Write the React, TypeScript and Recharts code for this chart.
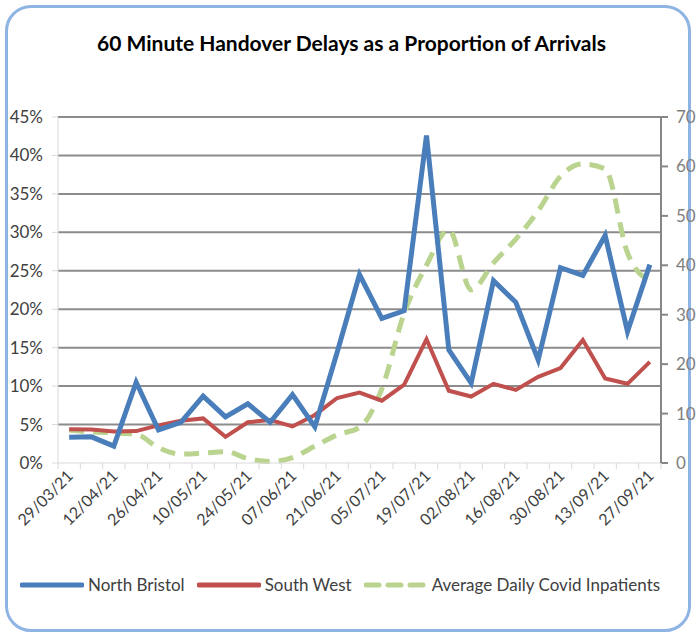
import React from 'react';
import { LineChart, Line, XAxis, YAxis, CartesianGrid } from 'recharts';

// week commencing dates (weekly, 27 points)
const weeks = [
  '29/03/21', '05/04/21', '12/04/21', '19/04/21', '26/04/21', '03/05/21', '10/05/21',
  '17/05/21', '24/05/21', '31/05/21', '07/06/21', '14/06/21', '21/06/21', '28/06/21',
  '05/07/21', '12/07/21', '19/07/21', '26/07/21', '02/08/21', '09/08/21', '16/08/21',
  '23/08/21', '30/08/21', '06/09/21', '13/09/21', '20/09/21', '27/09/21',
];

// % of arrivals with a 60 minute handover delay
const northBristol = [
  3.35, 3.4, 2.2, 10.5, 4.3, 5.3, 8.7, 6.0, 7.7, 5.3, 8.9, 4.7, 14.4, 24.5,
  18.8, 19.8, 42.6, 14.7, 10.4, 23.7, 20.9, 13.4, 25.4, 24.4, 29.6, 17.1, 25.8,
];
const southWest = [
  4.4, 4.35, 4.1, 4.15, 4.9, 5.5, 5.8, 3.4, 5.3, 5.6, 4.75, 6.25, 8.45, 9.15,
  8.1, 10.2, 16.1, 9.4, 8.65, 10.3, 9.5, 11.2, 12.35, 16.0, 11.0, 10.3, 13.15,
];
// average daily covid inpatients (right axis)
const covidInpatients = [
  6.7, 6.3, 6.1, 5.8, 3.1, 1.8, 2.0, 2.3, 0.9, 0.3, 1.1, 3.4, 5.7, 7.2,
  15.0, 30.3, 40.0, 47.2, 35.0, 40.5, 45.3, 51.0, 58.0, 60.5, 59.5, 42.5, 36.7,
];

const pctTicks = [0, 5, 10, 15, 20, 25, 30, 35, 40, 45];
const covidTicks = [0, 10, 20, 30, 40, 50, 60, 70];

const FONT = 'Lato, "Open Sans", sans-serif';

const data = weeks.map((w, i) => ({
  idx: i,
  week: w,
  nb: northBristol[i],
  sw: southWest[i],
  covid: covidInpatients[i],
}));

// tick marks sit between weeks, labels on every other week
const xTicks: number[] = [];
for (let i = 0; i <= weeks.length; i++) xTicks.push(i - 0.5);
for (let i = 0; i < weeks.length; i += 2) xTicks.push(i);
xTicks.sort((a, b) => a - b);

const XTick = (props: any) => {
  const { x, y, payload } = props;
  const v = payload.value;
  if (Math.abs(v % 1) > 0.25) {
    return <line x1={x} x2={x} y1={y} y2={y + 6} stroke="#d9d9d9" strokeWidth={1} />;
  }
  const ax = x + 5;
  const ay = y + 14;
  return (
    <text
      x={ax}
      y={ay}
      transform={`rotate(-45 ${ax} ${ay})`}
      textAnchor="end"
      fontSize={16}
      fontFamily={FONT}
      fill="#404040"
    >
      {weeks[v]}
    </text>
  );
};

const LegendSwatch = ({ color, dashed }: { color: string; dashed?: boolean }) => (
  <svg width={64} height={10} style={{ display: 'block' }}>
    <line
      x1={2}
      x2={62}
      y1={5}
      y2={5}
      stroke={color}
      strokeWidth={5}
      strokeDasharray={dashed ? '13 9' : undefined}
      strokeLinecap="round"
    />
  </svg>
);

export default function App() {
  return (
    <div style={{ position: 'absolute', left: 0, top: 0, width: 697, height: 635, background: '#fff', overflow: 'hidden' }}>
      <div
        style={{
          position: 'absolute', left: 5, top: 5, width: 686, height: 627, boxSizing: 'border-box',
          border: '3px solid #8eb4e3', borderRadius: 26,
        }}
      />
      <div
        style={{
          position: 'absolute', left: 0, top: 30, width: 703, textAlign: 'center',
          fontFamily: FONT, fontWeight: 700, fontSize: 21, color: '#000',
        }}
      >
        60 Minute Handover Delays as a Proportion of Arrivals
      </div>
      <div style={{ position: 'absolute', left: 0, top: 0 }}>
        <LineChart width={697} height={635} data={data} margin={{ top: 117, right: 0, left: 0, bottom: 0 }}>
          <CartesianGrid
            yAxisId="pct"
            vertical={false}
            horizontalValues={[5, 10, 15, 20, 25, 30, 35, 40, 45]}
            stroke="#8c8c8c"
            strokeWidth={2}
          />
          <XAxis
            dataKey="idx"
            type="number"
            domain={[-0.5, weeks.length - 0.5]}
            ticks={xTicks}
            interval={0}
            tick={<XTick />}
            tickLine={false}
            tickSize={0}
            tickMargin={0}
            axisLine={{ stroke: '#d9d9d9', strokeWidth: 1 }}
            height={172}
          />
          <YAxis
            yAxisId="pct"
            domain={[0, 45]}
            ticks={pctTicks}
            interval={0}
            width={58}
            tickFormatter={(v) => `${v}%`}
            tick={{ fill: '#404040', fontSize: 17, fontFamily: FONT }}
            tickLine={{ stroke: '#d9d9d9' }}
            tickSize={6}
            tickMargin={9}
            axisLine={{ stroke: '#d9d9d9', strokeWidth: 1 }}
          />
          <YAxis
            yAxisId="covid"
            orientation="right"
            domain={[0, 70]}
            ticks={covidTicks}
            interval={0}
            width={36}
            tick={{ fill: '#7f7f7f', fontSize: 17, fontFamily: FONT }}
            tickLine={{ stroke: '#868686', strokeWidth: 2 }}
            tickSize={7}
            tickMargin={8}
            axisLine={{ stroke: '#868686', strokeWidth: 2 }}
          />
          <Line
            yAxisId="covid"
            dataKey="covid"
            type="monotone"
            stroke="#bad48f"
            strokeWidth={5}
            strokeDasharray="15 9"
            dot={false}
            isAnimationActive={false}
          />
          <Line
            yAxisId="pct"
            dataKey="sw"
            type="linear"
            stroke="#c0504d"
            strokeWidth={4}
            dot={false}
            isAnimationActive={false}
          />
          <Line
            yAxisId="pct"
            dataKey="nb"
            type="linear"
            stroke="#4a7ebb"
            strokeWidth={5}
            dot={false}
            isAnimationActive={false}
          />
        </LineChart>
      </div>
      <div
        style={{
          position: 'absolute', left: 20, top: 574, display: 'flex', alignItems: 'center',
          fontFamily: FONT, fontSize: 17, color: '#404040', whiteSpace: 'nowrap',
        }}
      >
        <LegendSwatch color="#4a7ebb" />
        <span style={{ marginLeft: 4, marginRight: 12 }}>North Bristol</span>
        <LegendSwatch color="#c0504d" />
        <span style={{ marginLeft: 4, marginRight: 12 }}>South West</span>
        <LegendSwatch color="#bad48f" dashed />
        <span style={{ marginLeft: 4 }}>Average Daily Covid Inpatients</span>
      </div>
    </div>
  );
}
